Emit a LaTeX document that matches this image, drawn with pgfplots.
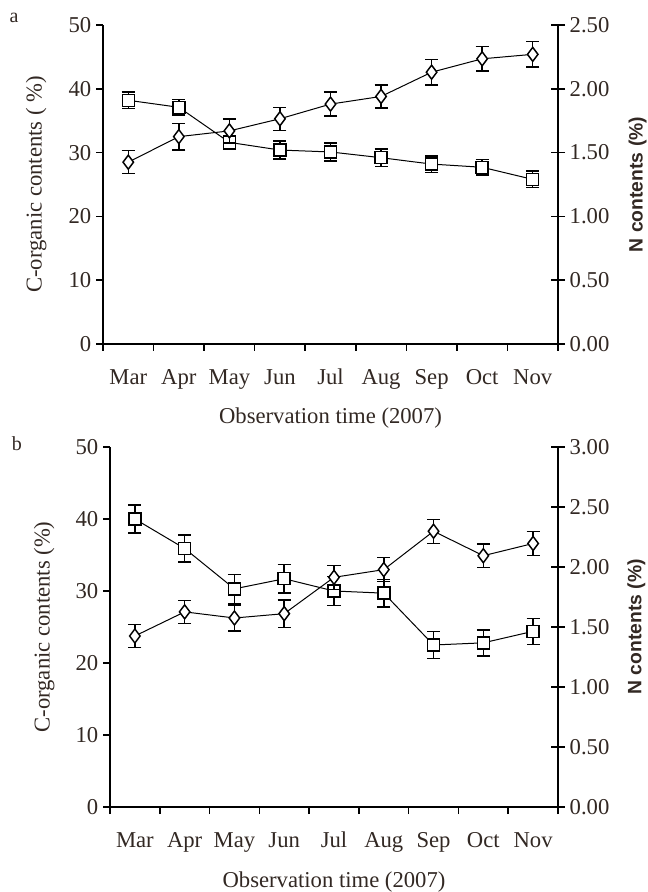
\documentclass[border=0pt]{standalone}
\usepackage{pgfplots}
\pgfplotsset{compat=1.18}
\usepackage{fontspec}
\setmainfont{Liberation Serif}
\newfontfamily\labsans{Liberation Sans}
\definecolor{txt}{RGB}{50,40,35}
\pgfplotsset{
 base/.style={
  scale only axis,
  xmin=0.5, xmax=9.5, ymin=0,
  axis line style={line width=1.1pt, black},
  tick style={line width=1.1pt, black},
  ticklabel style={font=\fontsize{17}{20}\selectfont, text=txt},
  /pgf/number format/assume math mode=true,
  clip=false,
 },
 leftax/.style={base,
  axis x line*=bottom, axis y line*=left,
  tick align=outside, major tick length=5.25pt,
  ymax=50, ytick={0,10,20,30,40,50},
  xtick={0.5,1.5,2.5,3.5,4.5,5.5,6.5,7.5,8.5,9.5},
  xticklabels={,,,,,,,,,},
  xticklabel style={yshift=-14.5pt, text height=12pt, text depth=3.5pt},
  extra x ticks={1,2,3,4,5,6,7,8,9},
  extra x tick labels={Mar,Apr,May,Jun,Jul,Aug,Sep,Oct,Nov},
  extra x tick style={major tick length=0pt},
  ylabel={C-organic contents ( \%)},
  ylabel style={at={(axis description cs:-0.147,0.5)}, anchor=center, font=\fontsize{17}{20}\selectfont, text=txt},
  xlabel={Observation time (2007)},
  xlabel style={anchor=center, font=\fontsize{17}{20}\selectfont, text=txt},
 },
 rightax/.style={base,
  axis x line=none, axis y line*=right,
  tick align=center, major tick length=10.5pt,
  yticklabel style={/pgf/number format/.cd, fixed, fixed zerofill, precision=2},
  ylabel={N contents (\%)},
  ylabel style={at={(axis description cs:1.175,0.5)}, anchor=center, font=\labsans\bfseries\fontsize{14.5}{17}\selectfont, text=txt},
 },
 sq/.style={black, line width=0.75pt, mark=square*, mark size=4.5pt,
  mark options={fill=white, line width=1.1pt, solid},
  error bars/.cd, y dir=both, y explicit,
  error bar style={line width=1.1pt},
  error mark options={rotate=90, mark size=4.9pt, line width=1.1pt}},
 di/.style={black, line width=0.75pt, mark=diamond*, mark size=5.25pt,
  mark options={fill=white, line width=1.1pt, solid},
  error bars/.cd, y dir=both, y explicit,
  error bar style={line width=1.1pt},
  error mark options={rotate=90, mark size=4.9pt, line width=1.1pt}},
}
\begin{document}
\begin{tikzpicture}
\useasboundingbox (0,0) rectangle (486pt,669pt);
\node[font=\fontsize{15}{18}\selectfont, text=txt] at (10.5pt,655.5pt) {a};
\node[font=\fontsize{15}{18}\selectfont, text=txt] at (12.75pt,336pt) {b};
% panel a
\begin{axis}[leftax, at={(77.25pt,411pt)}, anchor=south west, width=341.25pt, height=239.25pt,
  xlabel style={at={(axis description cs:0.5,-0.232)}}]
\addplot[sq] coordinates {
 (1,38.2) +- (0,1.3) (2,37.1) +- (0,1.2) (3,31.6) +- (0,1.0) (4,30.4) +- (0,1.4)
 (5,30.1) +- (0,1.4) (6,29.2) +- (0,1.4) (7,28.2) +- (0,1.3) (8,27.7) +- (0,1.2)
 (9,25.8) +- (0,1.3)};
\end{axis}
\begin{axis}[rightax, at={(77.25pt,411pt)}, anchor=south west, width=341.25pt, height=239.25pt,
  ymax=2.5, ytick={0,0.5,1,1.5,2,2.5}]
\addplot[di] coordinates {
 (1,1.425) +- (0,0.09) (2,1.625) +- (0,0.105) (3,1.67) +- (0,0.095) (4,1.765) +- (0,0.09)
 (5,1.88) +- (0,0.095) (6,1.94) +- (0,0.09) (7,2.13) +- (0,0.1) (8,2.235) +- (0,0.095)
 (9,2.27) +- (0,0.1)};
\end{axis}
% panel b
\begin{axis}[leftax, at={(82.5pt,63.75pt)}, anchor=south west, width=336pt, height=270pt,
  ylabel={C-organic contents (\%)},
  xlabel style={at={(axis description cs:0.5,-0.208)}}]
\addplot[sq] coordinates {
 (1,40.0) +- (0,1.95) (2,35.9) +- (0,1.9) (3,30.3) +- (0,2.0) (4,31.7) +- (0,2.0)
 (5,30.0) +- (0,2.0) (6,29.7) +- (0,1.9) (7,22.5) +- (0,1.85) (8,22.8) +- (0,1.8)
 (9,24.4) +- (0,1.8)};
\end{axis}
\begin{axis}[rightax, at={(82.5pt,63.75pt)}, anchor=south west, width=336pt, height=270pt,
  ymax=3, ytick={0,0.5,1,1.5,2,2.5,3}]
\addplot[di] coordinates {
 (1,1.425) +- (0,0.096) (2,1.626) +- (0,0.096) (3,1.575) +- (0,0.11) (4,1.611) +- (0,0.114)
 (5,1.914) +- (0,0.1) (6,1.978) +- (0,0.1) (7,2.298) +- (0,0.1) (8,2.094) +- (0,0.096)
 (9,2.196) +- (0,0.099)};
\end{axis}
\end{tikzpicture}
\end{document}
